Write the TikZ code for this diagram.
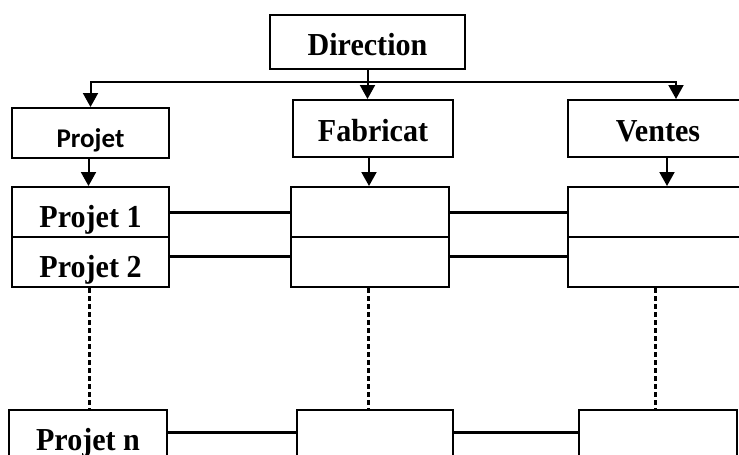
\documentclass[tikz,border=0pt]{standalone}
\usepackage{fontspec}
\setmainfont{Liberation Serif}[FakeStretch=0.94]
\newfontfamily\calibfont{Carlito}
\usepackage{tikz}
\usetikzlibrary{positioning, arrows.meta, calc}

\begin{document}
\begin{tikzpicture}[
    x=1pt, y=-1pt,
    line width=2pt,
    unit/.style={draw, rectangle, minimum width=158pt, minimum height=50pt, inner sep=0pt, align=center, fill=white, text height=29pt, text depth=0pt, font=\fontsize{32}{36}\selectfont\bfseries},
    head/.style={unit, minimum height=57pt},
    arr/.style={-{Triangle[length=14pt, width=15pt]}},
    link/.style={line width=3pt},
    more/.style={line width=3pt, dash pattern=on 5pt off 3pt}
]
    \useasboundingbox (0,0) rectangle (739,455);

    % --- TOP: DIRECTION ---
    \node[unit, minimum width=195pt, minimum height=54pt, text height=27pt] (dir) at (367.5, 42) {Direction};

    % --- DEPARTMENTS ---
    \node[unit, minimum width=157pt] (proj) at (90.5, 133) {\calibfont\fontsize{27}{30}\selectfont Projet};
    \node[head, minimum width=160pt, text height=26pt] (fab) at (373, 128.5) {Fabricat};
    \node[head, minimum width=180pt, text height=26pt] (vent) at (658, 128.5) {Ventes};

    % Distribution from Direction
    \coordinate (bus) at (367.5, 82);
    \draw (dir.south) -- (bus);
    \draw[arr] (bus) -| (proj.north);
    \draw[arr] (bus) -- (bus |- fab.north);
    \draw[arr] (bus) -| ([xshift=18pt]vent.north);

    % --- PROJECT ROWS ---
    \node[unit, minimum width=157pt, text height=31pt] (proj1) at (90.5, 212) {Projet 1};
    \node[unit, minimum width=157pt, text height=31pt] (proj2) at (90.5, 262) {Projet 2};
    \node[unit] (fab1) at (370, 212) {};
    \node[unit] (fab2) at (370, 262) {};
    \node[unit, minimum width=180pt] (vent1) at (658, 212) {};
    \node[unit, minimum width=180pt] (vent2) at (658, 262) {};

    \node[unit, minimum height=60pt, text height=20pt] (projn) at (88, 440) {Projet n};
    \node[unit, minimum width=156pt, minimum height=60pt] (fabn) at (375, 440) {};
    \node[unit, minimum height=60pt] (ventn) at (658, 440) {};

    % Departments down to first row
    \draw[arr] ([xshift=-2pt]proj.south) -- ([xshift=-2pt]proj.south |- proj1.north);
    \draw[arr] ([xshift=-4pt]fab.south) -- ([xshift=-4pt]fab.south |- fab1.north);
    \draw[arr] ([xshift=9pt]vent.south) -- ([xshift=9pt]vent.south |- vent1.north);

    % Links along each project
    \draw[link] (proj1.east) -- (fab1.west);
    \draw[link] (fab1.east) -- (vent1.west);
    \draw[link] ([yshift=6pt]proj2.east) -- ([yshift=6pt]fab2.west);
    \draw[link] ([yshift=6pt]fab2.east) -- ([yshift=6pt]vent2.west);
    \draw[link] ([yshift=8pt]projn.east) -- ([yshift=8pt]fabn.west);
    \draw[link] ([yshift=8pt]fabn.east) -- ([yshift=8pt]ventn.west);

    % Remaining projects
    \draw[more] ([xshift=-1pt]proj2.south) -- ([xshift=-1pt]proj2.south |- projn.north);
    \draw[more] ([xshift=-2pt]fab2.south) -- ([xshift=-2pt]fab2.south |- fabn.north);
    \draw[more] ([xshift=-3pt]vent2.south) -- ([xshift=-3pt]vent2.south |- ventn.north);

\end{tikzpicture}
\end{document}
